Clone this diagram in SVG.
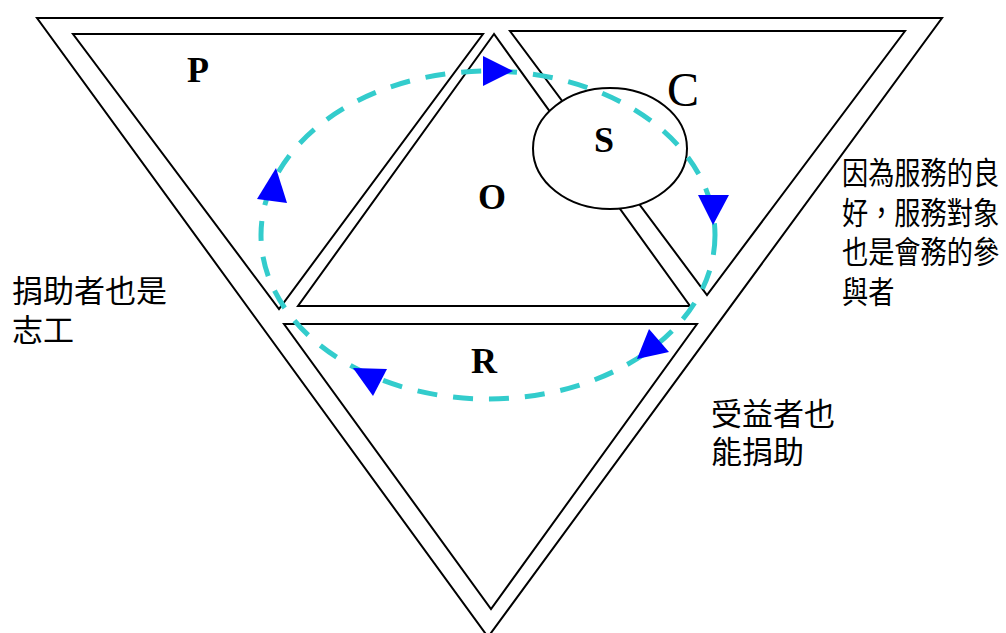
<svg xmlns="http://www.w3.org/2000/svg" width="1006" height="633" viewBox="0 0 1006 633">
  <style>
    .tri { fill: #FFFFFF; stroke: #000000; stroke-width: 2; stroke-linejoin: miter; }
    .ell { fill: #FFFFFF; stroke: #000000; stroke-width: 2; }
    .flow { fill: none; stroke: #33CCCC; stroke-width: 5; stroke-dasharray: 20 16; }
    .head { fill: #0000FF; stroke: none; }
    .lbl { font-family: "Liberation Serif", "Times New Roman", serif; font-weight: bold; font-size: 36px; fill: #000000; text-anchor: middle; }
    .lblc { font-family: "Liberation Serif", "Times New Roman", serif; font-size: 48px; fill: #000000; text-anchor: middle; }
    .cjk { font-family: "Liberation Sans", "Noto Sans CJK TC", sans-serif; font-size: 31px; fill: #000000; }
  </style>
  <rect x="0" y="0" width="1006" height="633" fill="#FFFFFF"/>
  <g id="outer">
    <polygon class="tri" points="37,18 942,18 488,637"/>
  </g>
  <g id="node-P">
    <polygon class="tri" points="73,34 483,34 279,309"/>
    <text class="lbl" x="198" y="82">P</text>
  </g>
  <g id="node-O">
    <polygon class="tri" points="494,34 298,306 690,306"/>
    <text class="lbl" x="492" y="209">O</text>
  </g>
  <g id="node-C">
    <polygon class="tri" points="510,31 905,31 707,295"/>
    <text class="lblc" x="683" y="106">C</text>
  </g>
  <g id="node-R">
    <polygon class="tri" points="284,324 697,324 491,609"/>
    <text class="lbl" x="484" y="373">R</text>
  </g>
  <g id="node-S">
    <ellipse class="ell" cx="610" cy="148.5" rx="77" ry="60.5"/>
    <text class="lbl" x="604" y="152">S</text>
  </g>
  <g id="connectors">
    <ellipse class="flow" cx="488" cy="235" rx="227" ry="164"/>
    <polygon class="head" points="513,71 483,56 483,86"/>
    <polygon class="head" points="713,225 698,195 729,195"/>
    <polygon class="head" points="637,359 649,329 669,352"/>
    <polygon class="head" points="353,368 387,369 373,396"/>
    <polygon class="head" points="276,168 257,199 287,203"/>
  </g>
  <g id="note-left">
    <text class="cjk" x="12" y="302">捐助者也是</text>
    <text class="cjk" x="12" y="341">志工</text>
  </g>
  <g id="note-right">
    <text class="cjk" transform="translate(842,184) scale(0.845,1)">因為服務的良</text>
    <text class="cjk" transform="translate(842,223.5) scale(0.845,1)">好，服務對象</text>
    <text class="cjk" transform="translate(842,263) scale(0.845,1)">也是會務的參</text>
    <text class="cjk" transform="translate(842,302.5) scale(0.845,1)">與者</text>
  </g>
  <g id="note-bottom">
    <text class="cjk" x="711" y="425">受益者也</text>
    <text class="cjk" x="711" y="463">能捐助</text>
  </g>
</svg>
